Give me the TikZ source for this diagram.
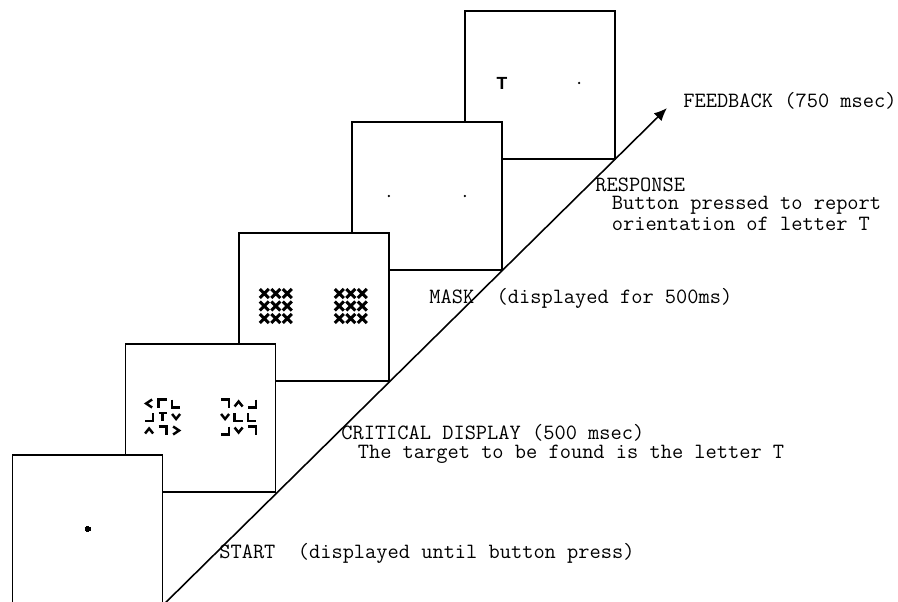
\documentclass[tikz,border=0pt]{standalone}
\usepackage{fontspec}
\newfontfamily\stimfont{Liberation Sans}
\usetikzlibrary{arrows.meta,calc}
\tikzset{
  screen/.style={draw=black,fill=white,line width=0.9pt,minimum width=3cm,minimum height=2.96cm,inner sep=0pt},
  timeline/.style={-{Latex[length=2.6mm,width=2.2mm]},black,line width=0.9pt},
  lbl/.style={font=\ttfamily\fontsize{12.4}{10.3}\selectfont,anchor=base west,inner sep=0pt,align=left},
  glyph/.style={line width=1.4pt},
  maskx/.style={line width=1.7pt},
  dotpt/.style={circle,fill=black,inner sep=0pt,minimum size=0.05cm},
  elTL/.pic={\draw[glyph] (-4,4)--(-4,-4)--(4,-4);},
  elTR/.pic={\draw[glyph] (-4,-4)--(4,-4)--(4,4);},
  elBL/.pic={\draw[glyph] (-4,-4)--(-4,4)--(4,4);},
  elBR/.pic={\draw[glyph] (4,-4)--(4,4)--(-4,4);},
  elT/.pic={\draw[glyph] (-4,-4)--(4,-4) (0,-4)--(0,4);},
  elLt/.pic={\draw[glyph] (3,-4)--(-3,0)--(3,4);},
  elRt/.pic={\draw[glyph] (-3,-4)--(3,0)--(-3,4);},
  elUp/.pic={\draw[glyph] (-4,3)--(0,-2)--(4,3);},
  elDn/.pic={\draw[glyph] (-4,-3)--(0,2)--(4,-3);},
}
\newcommand{\ind}{\hspace*{0.33cm}}

\begin{document}
\begin{tikzpicture}[x=0.02cm,y=-0.02cm]
  \useasboundingbox (0,0) rectangle (898,601);
  \clip (0,0) rectangle (898,601);
  % screens, back to front
  \node[screen] (fbk) at (540,85) {};
  \node[screen] (resp) at (426.9,196) {};
  \node[screen] (mask) at (313.75,307) {};
  \node[screen] (crit) at (200.6,418) {};
  \node[screen] (start) at (87.5,529) {};
  % time line
  \coordinate (tail) at (150,618);
  \coordinate (head) at (667,108);
  \draw[timeline] (tail) -- (head);
  % start: fixation
  \draw[line width=1.8pt] ($(start.center)+(-3,0)$) -- ($(start.center)+(3,0)$);
  \draw[line width=1.8pt] ($(start.center)+(0,-3)$) -- ($(start.center)+(0,3)$);
  % critical display
  \begin{scope}[shift={(crit.center)}]
    \foreach \c/\r/\g in {0/0/elLt,1/0/elTL,2/0/elBL,0/1/elBR,1/1/elT,2/1/elDn,0/2/elUp,1/2/elTR,2/2/elRt}
      \pic at ({-38+(\c-1)*13.5},{-1+(\r-1)*13.5}) {\g};
    \foreach \c/\r/\g in {0/0/elTR,1/0/elUp,2/0/elBR,0/1/elDn,1/1/elBL,2/1/elBL,0/2/elBR,1/2/elDn,2/2/elTR}
      \pic at ({38+(\c-1)*13.5},{-1+(\r-1)*13.5}) {\g};
  \end{scope}
  % mask
  \begin{scope}[shift={(mask.center)}]
    \foreach \s in {-38,37}
      \foreach \c in {0,1,2}
        \foreach \r in {0,1,2}
          \draw[maskx] ({\s+(\c-1)*11.5-4.5},{-1+(\r-1)*12.5-4.5}) -- ++(9,9)
                       ({\s+(\c-1)*11.5+4.5},{-1+(\r-1)*12.5-4.5}) -- ++(-9,9);
  \end{scope}
  % response
  \node[dotpt] (respl) at ($(resp.center)+(-38,0)$) {};
  \node[dotpt] (respr) at ($(resp.center)+(38,0)$) {};
  % feedback
  \node[inner sep=0pt,font=\stimfont\bfseries\fontsize{10}{12}\selectfont] (fbkT) at ($(fbk.center)+(-38,-2)$) {T};
  \node[dotpt] (fbkdot) at ($(fbk.center)+(39,-2)$) {};
  % labels
  \node[lbl] (lblfbk) at (683,108) {FEEDBACK (750 msec)};
  \node[lbl] (lblresp) at (595,230) {RESPONSE\\\ind Button pressed to report\\\ind orientation of letter T};
  \node[lbl] (lblmask) at (429,303) {MASK\ \ (displayed for 500ms)};
  \node[lbl] (lblcrit) at (341,458) {CRITICAL DISPLAY (500 msec)\\\ind The target to be found is the letter T};
  \node[lbl] (lblstart) at (219,558) {START\ \ (displayed until button press)};
\end{tikzpicture}
\end{document}
